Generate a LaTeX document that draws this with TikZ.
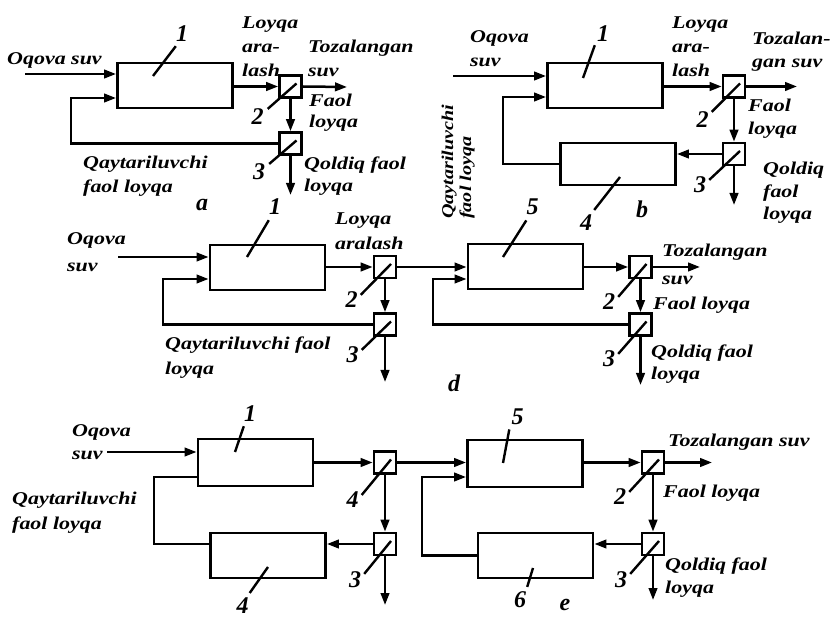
\documentclass[tikz,border=0pt]{standalone}
\usepackage{fontspec}
\newfontfamily\txtfont[FakeStretch=1.22]{Liberation Serif}
\newfontfamily\numfont{Liberation Serif}
\usetikzlibrary{arrows.meta,positioning,calc}
\tikzset{
  tank/.style={rectangle, draw, line width=2.9pt, inner sep=0pt, minimum width=115pt, minimum height=45pt},
  sepbox/.style={rectangle, draw, line width=2.6pt, inner sep=0pt, minimum size=22pt},
  flow/.style={line width=2.5pt, -{Triangle[length=12pt,width=8.5pt]}},
  pipe/.style={line width=2.5pt},
  lead/.style={line width=2.4pt},
  num/.style={font={\numfont\fontsize{24}{24}\selectfont\bfseries\itshape}, inner sep=0pt, anchor=base},
  txt/.style={font={\txtfont\fontsize{18}{24}\selectfont\bfseries\itshape}, inner sep=0pt, align=left, anchor=base west},
  vtxt/.style={txt, font={\txtfont\fontsize{16.5}{18}\selectfont\bfseries\itshape}, rotate=90}
}

\begin{document}
\begin{tikzpicture}[x=1pt,y=-1pt]
  \useasboundingbox (0,0) rectangle (836,617);

  % Scheme a
  \node[tank] (A1) at (175,85.5) {};
  \node[sepbox] (A2) at (290.5,86.5) {};
  \node[sepbox] (A3) at (290.5,143.5) {};
  \coordinate (ain) at (25,74);
  \coordinate (aloop) at (71,98);
  \coordinate (aout) at (347,87);
  \coordinate (adown) at (290.5,195);
  \draw[flow] (ain) -- (ain -| A1.west);
  \draw[flow] (A3.west) -| (aloop) -- (aloop -| A1.west);
  \draw[flow] (A1.east |- A2.west) -- (A2.west);
  \draw[flow] (A2.east) -- (aout);
  \draw[flow] (A2.south) -- (A3.north);
  \draw[flow] (A3.south) -- (adown);
  \node[num] (a1n) at (182,42) {1};
  \node[num] (a2n) at (257.5,125) {2};
  \node[num] (a3n) at (259,180) {3};
  \draw[lead] ([shift={(-22pt,9.5pt)}]A1.center) -- ([shift={(0pt,-4pt)}]a1n.south west);
  \draw[lead] ([shift={(6pt,3pt)}]A2.center) -- ([xshift=4pt]a2n.north east);
  \draw[lead] ([shift={(6pt,3pt)}]A3.center) -- ([xshift=4pt]a3n.north east);
  \node[txt] (aw) at (7,65) {Oqova suv};
  \node[txt] (amix) at (242,77) {Loyqa\\ara-\\lash};
  \node[txt] (aclean) at (308,77) {Tozalangan\\suv};
  \node[txt] (aact) at (309,128) {Faol\\[-3pt]loyqa};
  \node[txt] (arest) at (304,192) {Qoldiq faol\\[-2pt]loyqa};
  \node[txt] (aret) at (83,193) {Qaytariluvchi\\faol loyqa};
  \node[num] (atag) at (202,211) {a};

  % Scheme b
  \node[tank] (B1) at (605,85.5) {};
  \node[tank, minimum height=42pt] (B4) at (618,164) {};
  \node[sepbox] (B2) at (734,86.5) {};
  \node[sepbox] (B3) at (734,154) {};
  \coordinate (bin) at (453,76);
  \coordinate (bloop) at (503,97);
  \coordinate (bout) at (797,86.5);
  \coordinate (bdown) at (734,205);
  \draw[flow] (bin) -- (bin -| B1.west);
  \draw[flow] (B4.west) -| (bloop) -- (bloop -| B1.west);
  \draw[flow] (B1.east |- B2.west) -- (B2.west);
  \draw[flow] (B2.east) -- (bout);
  \draw[flow] (B2.south) -- (B3.north);
  \draw[flow] (B3.west) -- (B3.west -| B4.east);
  \draw[flow] (B3.south) -- (bdown);
  \node[num] (b1n) at (603,42) {1};
  \node[num] (b2n) at (702.5,128) {2};
  \node[num] (b3n) at (700,193) {3};
  \node[num] (b4n) at (586,231) {4};
  \draw[lead] ([shift={(-22pt,7.5pt)}]B1.center) -- ([shift={(-2pt,-3pt)}]b1n.south west);
  \draw[lead] ([shift={(6pt,3pt)}]B2.center) -- ([xshift=3pt]b2n.north east);
  \draw[lead] ([shift={(6pt,3pt)}]B3.center) -- ([shift={(3pt,-3pt)}]b3n.north east);
  \draw[lead] ([shift={(2pt,-13pt)}]B4.center) -- ([shift={(2pt,5pt)}]b4n.north east);
  \node[txt] (bw) at (470,67) {Oqova\\suv};
  \node[txt] (bmix) at (672,77) {Loyqa\\ara-\\lash};
  \node[txt] (bclean) at (752,68) {Tozalan-\\[-1pt]gan suv};
  \node[txt] (bact) at (748,135) {Faol\\[-1pt]loyqa};
  \node[txt] (brest) at (763,220) {Qoldiq\\[-1.5pt]faol\\[-1.5pt]loyqa};
  \node[vtxt] (bret) at (471,219) {Qaytariluvchi\\faol loyqa};
  \node[num] (btag) at (642,218) {b};

  % Scheme d
  \node[tank] (D1) at (267.5,267.5) {};
  \node[sepbox] (D2) at (385,267) {};
  \node[sepbox] (D3) at (385,324.5) {};
  \node[tank] (D5) at (525.5,266.5) {};
  \node[sepbox] (D2b) at (640.5,267) {};
  \node[sepbox] (D3b) at (640.5,324.5) {};
  \coordinate (din) at (118,257);
  \coordinate (dloopa) at (163,279);
  \coordinate (dloopb) at (433,279);
  \coordinate (dout) at (700,267);
  \coordinate (ddowna) at (385,382);
  \coordinate (ddownb) at (640.5,385);
  \draw[flow] (din) -- (din -| D1.west);
  \draw[flow] (D3.west) -| (dloopa) -- (dloopa -| D1.west);
  \draw[flow] (D1.east |- D2.west) -- (D2.west);
  \draw[flow] (D2.east) -- (D2.east -| D5.west);
  \draw[flow] (D3b.west) -| (dloopb) -- (dloopb -| D5.west);
  \draw[flow] (D5.east |- D2b.west) -- (D2b.west);
  \draw[flow] (D2b.east) -- (dout);
  \draw[flow] (D2.south) -- (D3.north);
  \draw[flow] (D3.south) -- (ddowna);
  \draw[flow] (D2b.south) -- (D3b.north);
  \draw[flow] (D3b.south) -- (ddownb);
  \node[num] (d1n) at (275,215) {1};
  \node[num] (d2n) at (351.5,308) {2};
  \node[num] (d3n) at (352.5,363) {3};
  \node[num] (d5n) at (532.5,215) {5};
  \node[num] (d2bn) at (609,310) {2};
  \node[num] (d3bn) at (609,367) {3};
  \draw[lead] ([shift={(-20.5pt,10.5pt)}]D1.center) -- ([shift={(0pt,-5pt)}]d1n.south west);
  \draw[lead] ([shift={(6pt,3pt)}]D2.center) -- ([shift={(3pt,-3pt)}]d2n.north east);
  \draw[lead] ([shift={(6pt,3pt)}]D3.center) -- ([shift={(3pt,-3pt)}]d3n.north east);
  \draw[lead] ([shift={(-22.5pt,9.5pt)}]D5.center) -- ([shift={(0pt,-5pt)}]d5n.south west);
  \draw[lead] ([shift={(6pt,3pt)}]D2b.center) -- ([shift={(3pt,-3pt)}]d2bn.north east);
  \draw[lead] ([shift={(6pt,3pt)}]D3b.center) -- ([shift={(3pt,-3pt)}]d3bn.north east);
  \node[txt] (dw) at (67,272) {Oqova\\[3pt]suv};
  \node[txt] (dmix) at (335,250) {Loyqa\\[1pt]aralash};
  \node[txt] (dret) at (165,375) {Qaytariluvchi faol\\[1pt]loyqa};
  \node[txt] (dclean) at (662,285) {Tozalangan\\[4pt]suv};
  \node[txt] (dact) at (653,310) {Faol loyqa};
  \node[txt] (drest) at (651,380) {Qoldiq faol\\[-2pt]loyqa};
  \node[num] (dtag) at (454,392) {d};

  % Scheme e
  \node[tank, minimum height=47pt] (E1) at (255.5,462.5) {};
  \node[tank] (E4) at (268,555.5) {};
  \node[sepbox] (E4s) at (385,462.5) {};
  \node[sepbox] (E3) at (385,544) {};
  \node[tank, minimum height=47pt] (E5) at (525,463.5) {};
  \node[tank] (E6) at (535.5,555.5) {};
  \node[sepbox] (E2b) at (653,462.5) {};
  \node[sepbox] (E3b) at (653,544) {};
  \coordinate (ein) at (107,452);
  \coordinate (eloopa) at (154,477);
  \coordinate (eloopb) at (422,477);
  \coordinate (eout) at (712,462.5);
  \coordinate (edowna) at (385,605);
  \coordinate (edownb) at (653,600);
  \draw[flow] (ein) -- (ein -| E1.west);
  \draw[pipe] (E4.west |- E3.west) -| (eloopa) -- (eloopa -| E1.west);
  \draw[flow] (E1.east) -- (E4s.west);
  \draw[flow] (E4s.east) -- (E4s.east -| E5.west);
  \draw[flow] (E4s.south) -- (E3.north);
  \draw[flow] (E3.south) -- (edowna);
  \draw[flow] (E3.west) -- (E3.west -| E4.east);
  \draw[flow] (E6.west) -| (eloopb) -- (eloopb -| E5.west);
  \draw[flow] (E5.east |- E2b.west) -- (E2b.west);
  \draw[flow] (E2b.east) -- (eout);
  \draw[flow] (E2b.south) -- (E3b.north);
  \draw[flow] (E3b.south) -- (edownb);
  \draw[flow] (E3b.west) -- (E3b.west -| E6.east);
  \node[num] (e1n) at (250,422) {1};
  \node[num] (e4sn) at (352.5,508) {4};
  \node[num] (e3n) at (355,587) {3};
  \node[num] (e4n) at (242.5,613) {4};
  \node[num] (e5n) at (517.5,425) {5};
  \node[num] (e2bn) at (620,505) {2};
  \node[num] (e3bn) at (621,587) {3};
  \node[num] (e6n) at (520,607) {6};
  \draw[lead] ([shift={(-20.5pt,10.5pt)}]E1.center) -- ([shift={(0pt,-4pt)}]e1n.south west);
  \draw[lead] ([shift={(0pt,-11.5pt)}]E4.center) -- ([shift={(1pt,4pt)}]e4n.north east);
  \draw[lead] ([shift={(-22pt,0.5pt)}]E5.center) -- ([shift={(-2pt,-4pt)}]e5n.south west);
  \draw[lead] ([shift={(-2.5pt,-12.5pt)}]E6.center) -- ([shift={(1pt,4pt)}]e6n.north east);
  \draw[lead] ([shift={(6pt,3pt)}]E4s.center) -- ([shift={(3pt,-3pt)}]e4sn.north east);
  \draw[lead] ([shift={(6pt,3pt)}]E3.center) -- ([shift={(3pt,-3pt)}]e3n.north east);
  \draw[lead] ([shift={(6pt,3pt)}]E2b.center) -- ([shift={(3pt,-3pt)}]e2bn.north east);
  \draw[lead] ([shift={(6pt,3pt)}]E3b.center) -- ([shift={(3pt,-3pt)}]e3bn.north east);
  \node[txt] (ew) at (72,460) {Oqova\\[-1pt]suv};
  \node[txt] (eret) at (12,530) {Qaytariluvchi\\[1pt]faol loyqa};
  \node[txt] (eclean) at (668,447) {Tozalangan suv};
  \node[txt] (eact) at (663,498) {Faol loyqa};
  \node[txt] (erest) at (665,593) {Qoldiq faol\\[-1pt]loyqa};
  \node[num] (etag) at (565,610) {e};
\end{tikzpicture}
\end{document}
